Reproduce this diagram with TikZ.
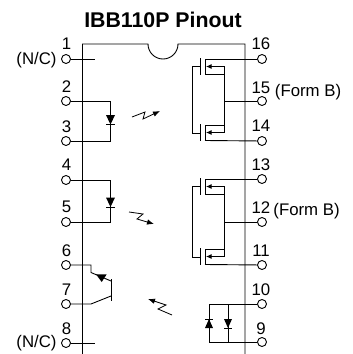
\documentclass[tikz,border=0pt]{standalone}
\usepackage{fontspec}
\setmainfont{Liberation Sans}
\usetikzlibrary{arrows.meta}
\begin{document}
\begin{tikzpicture}[x=1pt,y=-1pt,line width=.9pt,
  hole/.style={draw,circle,fill=white,inner sep=0pt,minimum size=9pt},
  num/.style={inner sep=0pt,font=\fontsize{16.8}{16.8}\selectfont},
  flash/.style={line width=.8pt,-{Latex[length=7pt,width=5.5pt]}},
  fetarrow/.style={-{Latex[length=5.5pt,width=5pt]}}]
\useasboundingbox (0,0) rectangle (353,354);
\node[inner sep=0pt,font=\fontsize{21.3}{21.3}\selectfont\bfseries] (title) at (163,20) {IBB110P Pinout};
\draw (82.5,354) -- (82.5,44) -- (148,44) arc[start angle=180,end angle=0,radius=15] -- (245,44) -- (245,354);
\foreach \n/\y/\ly in {1/59/44,2/101/87,3/141/127,4/180/165,5/222/207,6/265/251,7/304/290,8/343/329}{
  \node[hole] (pin\n) at (66,\y) {};
  \node[num] (num\n) at (66.5,\ly) {\n};
}
\foreach \n/\y/\ly in {16/59/44,15/101/88,14/141/126,13/179/165,12/222/208,11/265/251,10/304/290,9/342/329}{
  \node[hole] (pin\n) at (262,\y) {};
  \node[num] (num\n) at (261,\ly) {\n};
}
\node[num,anchor=east] (nc1) at (57,60) {(N/C)};
\node[num,anchor=east] (nc2) at (57,343) {(N/C)};
\node[num,anchor=west] (formb1) at (274.5,92) {(Form B)};
\node[num,anchor=west] (formb2) at (273,211) {(Form B)};
\coordinate (stub1) at (95,59);
\coordinate (stub8) at (95,343);
\draw (pin1) -- (stub1);
\draw (pin8) -- (stub8);
% photodiode legs
\foreach \a/\b/\t in {2/3/115,4/5/197.5}{
  \coordinate (top\a) at (110.5,\t);
  \draw (pin\a) -| (top\a) -- (110.5,\t+9.5) |- (pin\b);
  \fill (106,\t) -- (115,\t) -- (110.5,\t+9.5) -- cycle;
  \draw (106,\t+9.5) -- (115,\t+9.5);
}
% transistor
\coordinate (emit) at (91,272.5);
\coordinate (coll) at (91,304);
\draw (pin6) -| (emit) -- (111,281);
\draw (pin7) -- (coll) -- (111,296);
\draw (111,279) -- (111,300.5);
\fill (96,274.3) -- (106.7,274.3) -- (101.7,282) -- cycle;
% flashes
\draw[flash] (132,117) -- (145,112) -- (143,119) -- (160,111);
\draw[flash] (129,212) -- (143,214) -- (137,219) -- (154,224);
\draw[flash] (172,315) -- (158,309) -- (166,305) -- (148,299);
% fets
\foreach \t in {59,125,179,249}{
  \draw (205,\t) -- (205,\t+15.5);
  \draw (200.7,\t-1) -- (200.7,\t+15.5);
  \draw[fetarrow] (224.5,\t+7.5) -- (206,\t+7.5);
}
\foreach \t/\r/\g/\m/\s/\b in {59/125/16/15/133/14,179/249/13/12/257/11}{
  \coordinate (railtop\g) at (224.5,\t+7.5);
  \coordinate (railend\g) at (224.5,\s);
  \draw (pin\g) -- (205,\t);
  \draw (205,\t+15.5) -- (224.5,\t+15.5);
  \draw (205,\r) -- (224.5,\r);
  \draw (railtop\g) -- (railend\g);
  \draw (pin\m) -- (pin\m -| railtop\g);
  \draw (205,\r+15.5) -- (pin\b);
  \draw (200.7,\t+7.5) -- (192,\t+7.5) -- (192,\s) -- (200.7,\s);
}
% diodes at the bottom
\coordinate (d1top) at (209,304);
\coordinate (d1bot) at (209,342);
\draw (pin10) -- (d1top) -- (d1bot) -- (pin9);
\draw (228,304) -- (228,342);
\fill (205,328) -- (213,328) -- (209,319) -- cycle;
\draw (205,319) -- (213,319);
\fill (224,319) -- (232,319) -- (228,328) -- cycle;
\draw (224,328) -- (232,328);
\end{tikzpicture}
\end{document}
